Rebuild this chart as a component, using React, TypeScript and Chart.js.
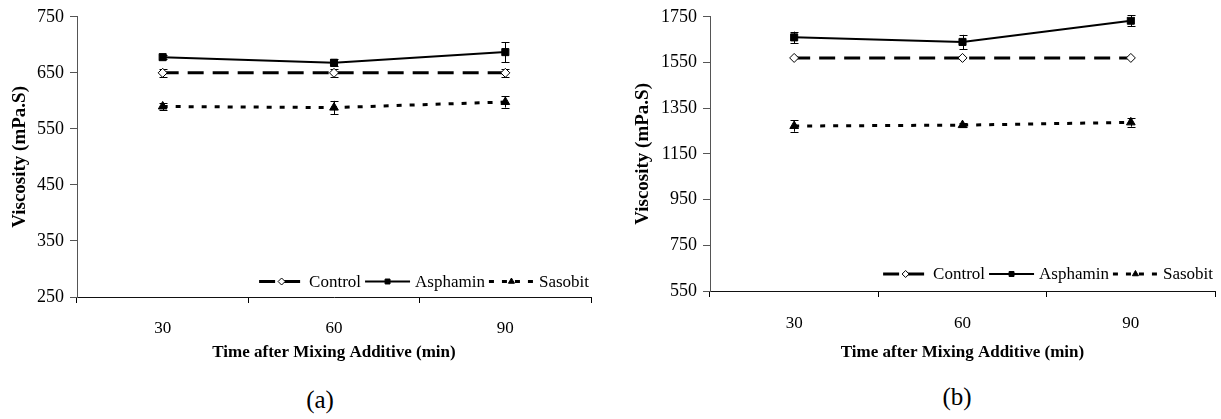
import React, { useEffect, useRef } from 'react';
import { Chart, registerables } from 'chart.js';

Chart.register(...registerables);

const FONT = "'Liberation Serif', 'Times New Roman', serif";

// ---------- data ----------
const categories = ['30', '60', '90'];
const seriesNames = ['Control', 'Asphamin', 'Sasobit'];

const controlA = [650, 650, 650];
const controlErrA = [7, 7, 7];
const asphaminA = [678, 668, 687];
const asphaminErrA = [3, 6, 18];
const sasobitA = [590, 588, 598];
const sasobitErrA = [7, 12, 10];

const controlB = [1570, 1570, 1570];
const controlErrB = [0, 0, 0];
const asphaminB = [1660, 1640, 1733];
const asphaminErrB = [25, 31, 23];
const sasobitB = [1272, 1276, 1288];
const sasobitErrB = [25, 10, 19];

const yRangeA = [250, 750];
const yStepA = 100;
const yRangeB = [550, 1750];
const yStepB = 200;

const xTitle = 'Time after Mixing Additive (min)';
const yTitle = 'Viscosity (mPa.S)';

// ---------- styles ----------
const seriesStyles = [
  { dash: [16, 9], width: 3, point: 'rectRot', radius: 4.5, fill: '#ffffff' },
  { dash: [], width: 2, point: 'rect', radius: 5, fill: '#000000' },
  { dash: [5, 8], width: 3, point: 'triangle', radius: 5, fill: '#000000' },
];

function drawMarker(ctx: CanvasRenderingContext2D, style: string, x: number, y: number, r: number, fill: string) {
  ctx.beginPath();
  if (style === 'rect') {
    const s = r * Math.SQRT1_2;
    ctx.rect(x - s, y - s, 2 * s, 2 * s);
  } else if (style === 'rectRot') {
    ctx.moveTo(x, y - r);
    ctx.lineTo(x + r, y);
    ctx.lineTo(x, y + r);
    ctx.lineTo(x - r, y);
    ctx.closePath();
  } else {
    for (let k = 0; k < 3; k++) {
      const a = -Math.PI / 2 + (k * 2 * Math.PI) / 3;
      const px = x + Math.cos(a) * r;
      const py = y + Math.sin(a) * r;
      if (k === 0) ctx.moveTo(px, py);
      else ctx.lineTo(px, py);
    }
    ctx.closePath();
  }
  ctx.fillStyle = fill;
  ctx.fill();
  ctx.lineWidth = 1;
  ctx.strokeStyle = '#000';
  ctx.stroke();
}

const errorBarPlugin = {
  id: 'errorBars',
  beforeDatasetsDraw(chart: any) {
    const ctx = chart.ctx;
    const ys = chart.scales.y;
    chart.data.datasets.forEach((ds: any, i: number) => {
      const meta = chart.getDatasetMeta(i);
      const errs: number[] = ds.errors || [];
      meta.data.forEach((pt: any, j: number) => {
        const e = errs[j];
        if (!e) return;
        const v = ds.data[j];
        const yt = ys.getPixelForValue(v + e);
        const yb = ys.getPixelForValue(v - e);
        const x = Math.round(pt.x) + 0.5;
        ctx.save();
        ctx.strokeStyle = '#000';
        ctx.lineWidth = 1;
        ctx.setLineDash([]);
        ctx.beginPath();
        ctx.moveTo(x, yt);
        ctx.lineTo(x, yb);
        ctx.moveTo(x - 4, Math.round(yt) + 0.5);
        ctx.lineTo(x + 4, Math.round(yt) + 0.5);
        ctx.moveTo(x - 4, Math.round(yb) + 0.5);
        ctx.lineTo(x + 4, Math.round(yb) + 0.5);
        ctx.stroke();
        ctx.restore();
      });
    });
  },
};

function makeLegendPlugin(fontSize: number, rightInset: number, bottomInset: number, markerRadius: number) {
  return {
    id: 'sampleLegend',
    afterDatasetsDraw(chart: any) {
      const { ctx, chartArea } = chart;
      ctx.save();
      ctx.font = `normal ${fontSize}px ${FONT}`;
      const sampleW = 45;
      const gapText = 5;
      const gapItem = 4;
      const items = chart.data.datasets.map((ds: any) => ({ ds, w: ctx.measureText(ds.label).width }));
      const total =
        items.reduce((s: number, it: any) => s + sampleW + gapText + it.w, 0) + gapItem * (items.length - 1);
      let x = chartArea.right - rightInset - total;
      const y = chartArea.bottom - bottomInset;
      items.forEach((it: any) => {
        const ds = it.ds;
        ctx.strokeStyle = '#000';
        ctx.lineWidth = ds.borderWidth;
        ctx.setLineDash(ds.borderDash || []);
        ctx.beginPath();
        ctx.moveTo(x, y);
        ctx.lineTo(x + sampleW, y);
        ctx.stroke();
        ctx.setLineDash([]);
        drawMarker(ctx, ds.pointStyle, x + sampleW / 2, y, markerRadius, ds.pointBackgroundColor);
        x += sampleW + gapText;
        ctx.font = `normal ${fontSize}px ${FONT}`;
        ctx.fillStyle = '#000';
        ctx.textBaseline = 'middle';
        ctx.textAlign = 'left';
        ctx.fillText(ds.label, x, y + 1);
        x += it.w + gapItem;
      });
      ctx.restore();
    },
  };
}

type PanelProps = {
  left: number;
  width: number;
  height: number;
  series: number[][];
  errors: number[][];
  range: number[];
  step: number;
  padLeft: number;
  padRight: number;
  padTop: number;
  yWidth: number;
  xHeight: number;
  xPad: number;
  legendBottom: number;
};

function Panel(p: PanelProps) {
  const ref = useRef<HTMLCanvasElement | null>(null);
  useEffect(() => {
    if (!ref.current) return;
    const datasets = seriesNames.map((name, i) => {
      const st = seriesStyles[i];
      return {
        label: name,
        data: p.series[i],
        errors: p.errors[i],
        borderColor: '#000',
        borderWidth: st.width,
        borderDash: st.dash,
        pointStyle: st.point,
        pointRadius: st.radius,
        pointBackgroundColor: st.fill,
        pointBorderColor: '#000',
        pointBorderWidth: 1,
        tension: 0,
        fill: false,
      };
    });
    const chart = new Chart(ref.current, {
      type: 'line',
      data: { labels: categories, datasets: datasets as any },
      options: {
        animation: false,
        responsive: false,
        layout: { padding: { left: p.padLeft, right: p.padRight, top: p.padTop, bottom: 7 } },
        plugins: {
          legend: { display: false },
          tooltip: { enabled: false },
        },
        scales: {
          x: {
            type: 'category',
            offset: true,
            grid: { display: true, drawOnChartArea: false, drawTicks: true, tickLength: 6, color: '#000', offset: true },
            border: { color: '#111', width: 1 },
            ticks: { color: '#000', font: { family: FONT, size: 17 }, padding: p.xPad },
            title: {
              display: true,
              text: xTitle,
              color: '#000',
              font: { family: FONT, size: 17, weight: 'bold' },
              padding: { top: 0, bottom: 0 },
            },
            afterFit: (s: any) => {
              s.height = p.xHeight;
            },
          },
          y: {
            min: p.range[0],
            max: p.range[1],
            ticks: {
              stepSize: p.step,
              color: '#000',
              font: { family: FONT, size: 18 },
              padding: 6,
              callback: (v: any) => String(v),
            },
            grid: { display: true, drawOnChartArea: false, drawTicks: true, tickLength: 7, color: '#555' },
            border: { color: '#555', width: 1 },
            title: {
              display: true,
              text: yTitle,
              color: '#000',
              font: { family: FONT, size: 19, weight: 'bold' },
              padding: { top: 0, bottom: 0 },
            },
            afterFit: (s: any) => {
              s.width = p.yWidth;
            },
          },
        },
      } as any,
      plugins: [errorBarPlugin, makeLegendPlugin(17, 2, p.legendBottom, 3.5)],
    });
    return () => chart.destroy();
  }, []);
  return (
    <canvas
      ref={ref}
      width={p.width}
      height={p.height}
      style={{ position: 'absolute', left: p.left, top: 0, width: p.width, height: p.height }}
    />
  );
}

export default function App() {
  const captionStyle = (cx: number, cy: number): React.CSSProperties => ({
    position: 'absolute',
    left: cx - 50,
    top: cy - 15,
    width: 100,
    height: 30,
    lineHeight: '30px',
    textAlign: 'center',
    fontFamily: FONT,
    fontSize: 25,
    color: '#000',
  });
  return (
    <div style={{ position: 'absolute', left: 0, top: 0, width: 1221, height: 419, background: '#fff' }}>
      <Panel
        left={0}
        width={600}
        height={370}
        series={[controlA, asphaminA, sasobitA]}
        errors={[controlErrA, asphaminErrA, sasobitErrA]}
        range={yRangeA}
        step={yStepA}
        padLeft={8.6}
        padRight={9}
        padTop={13}
        yWidth={68.4}
        xHeight={66}
        xPad={15}
        legendBottom={15.5}
      />
      <Panel
        left={600}
        width={621}
        height={370}
        series={[controlB, asphaminB, sasobitB]}
        errors={[controlErrB, asphaminErrB, sasobitErrB]}
        range={yRangeB}
        step={yStepB}
        padLeft={31.6}
        padRight={6}
        padTop={13}
        yWidth={78.4}
        xHeight={72}
        xPad={16}
        legendBottom={17}
      />
      <div style={captionStyle(320, 400)}>(a)</div>
      <div style={captionStyle(957, 397)}>(b)</div>
    </div>
  );
}
